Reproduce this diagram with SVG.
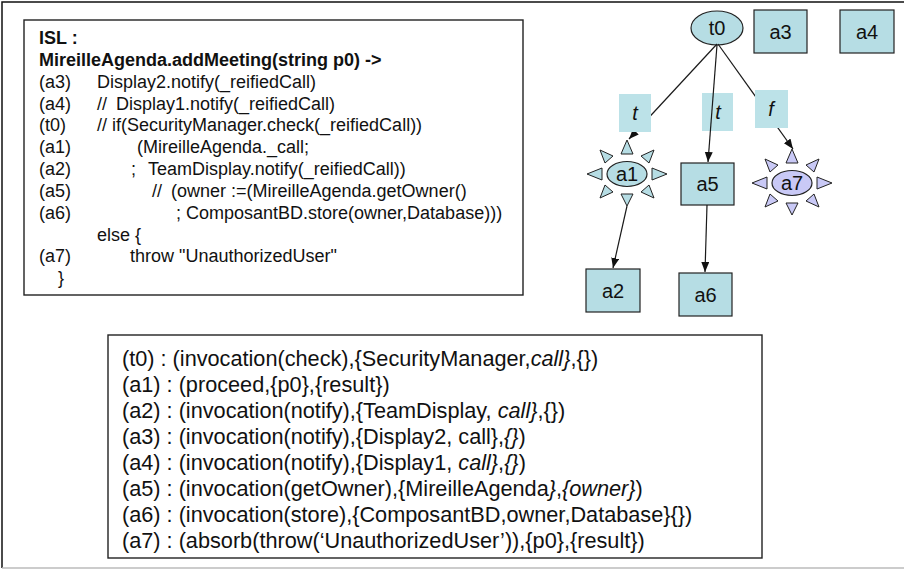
<svg xmlns="http://www.w3.org/2000/svg" xmlns:xlink="http://www.w3.org/1999/xlink" width="904" height="570" viewBox="0 0 904 570">
<style>
.code{font-family:"Liberation Sans",Arial,sans-serif;font-size:18px;fill:#111}
.bold{font-weight:bold}
.def{font-family:"Liberation Sans",Arial,sans-serif;font-size:21.7px;fill:#111}
.it{font-style:italic}
.box{fill:#fff;stroke:#222;stroke-width:1.4}
.node{fill:#B6DDE4;stroke:#222;stroke-width:1.2}
.lav{fill:#C9C9F6;stroke:#222;stroke-width:1.2}
.lbl{fill:#BCE2E8;stroke:none}
.nt{font-family:"Liberation Sans",Arial,sans-serif;font-size:20px;fill:#111;text-anchor:middle}
.conn{stroke:#1a1a1a;stroke-width:1.2;fill:none;marker-end:url(#arr)}
</style>
<defs>
<marker id="arr" markerUnits="userSpaceOnUse" markerWidth="11" markerHeight="9" refX="10" refY="4" orient="auto">
<path d="M0,0 L10,4 L0,8 z" fill="#111"/>
</marker>
<g id="rays" stroke="#222" stroke-width="1">
<polygon points="-6,-20 6,-20 0,-34"/>
<polygon points="-6,20 6,20 0,32"/>
<polygon points="-25,-6 -25,6 -40,0"/>
<polygon points="25,-6 25,6 40,0"/>
<polygon points="22,-11 14,-18 27,-24"/>
<polygon points="22,11 14,18 27,24"/>
<polygon points="-22,-11 -14,-18 -27,-24"/>
<polygon points="-22,11 -14,18 -27,24"/>
</g>
</defs>
<rect x="0" y="0" width="904" height="570" fill="#fff"/>
<path d="M2,568 V2 H904" fill="none" stroke="#111" stroke-width="1.5"/>
<line x1="2" y1="568" x2="904" y2="568" stroke="#bbb" stroke-width="1.5"/>

<g id="isl-box">
<rect class="box" x="24" y="20" width="499" height="275"/>
<text class="code bold" x="39" y="44">ISL :</text>
<text class="code bold" x="39" y="66">MireilleAgenda.addMeeting(string p0) -&gt;</text>
<text class="code" x="39" y="88">(a3)</text>
<text class="code" x="97" y="88">Display2.notify(_reifiedCall)</text>
<text class="code" x="39" y="110">(a4)</text>
<text class="code" x="97" y="110">//</text>
<text class="code" x="116" y="110">Display1.notify(_reifiedCall)</text>
<text class="code" x="39" y="131">(t0)</text>
<text class="code" x="97" y="131">// if(SecurityManager.check(_reifiedCall))</text>
<text class="code" x="39" y="153">(a1)</text>
<text class="code" x="137" y="153">(MireilleAgenda._call;</text>
<text class="code" x="39" y="175">(a2)</text>
<text class="code" x="131" y="175">;</text>
<text class="code" x="148" y="175">TeamDisplay.notify(_reifiedCall))</text>
<text class="code" x="39" y="197">(a5)</text>
<text class="code" x="152" y="197">//</text>
<text class="code" x="171" y="197">(owner :=(MireilleAgenda.getOwner()</text>
<text class="code" x="39" y="219">(a6)</text>
<text class="code" x="176" y="219">; ComposantBD.store(owner,Database)))</text>
<text class="code" x="97" y="241">else {</text>
<text class="code" x="39" y="262">(a7)</text>
<text class="code" x="130" y="262">throw "UnauthorizedUser"</text>
<text class="code" x="58" y="284">}</text>
</g>

<g id="def-box">
<rect class="box" x="108" y="335" width="654" height="223"/>
<text class="def" x="122" y="366">(t0) : (invocation(check),{SecurityManager,<tspan class="it">call}</tspan>,{})</text>
<text class="def" x="122" y="392">(a1) : (proceed,{p0},{result})</text>
<text class="def" x="122" y="418">(a2) : (invocation(notify),{TeamDisplay, <tspan class="it">call}</tspan>,{})</text>
<text class="def" x="122" y="444">(a3) : (invocation(notify),{Display2, call},<tspan class="it">{}</tspan>)</text>
<text class="def" x="122" y="470">(a4) : (invocation(notify),{Display1, <tspan class="it">call}</tspan>,<tspan class="it">{}</tspan>)</text>
<text class="def" x="122" y="496">(a5) : (invocation(getOwner),{MireilleAgenda<tspan class="it">}</tspan>,<tspan class="it">{owner}</tspan>)</text>
<text class="def" x="122" y="522">(a6) : (invocation(store),{ComposantBD,owner,Database}{})</text>
<text class="def" x="122" y="548">(a7) : (absorb(throw(‘UnauthorizedUser’)),{p0},{result})</text>
</g>

<g id="label-t-mid">
<rect class="lbl" x="702" y="93" width="31" height="38"/>
<text class="nt it" x="718" y="119">t</text>
</g>

<g id="t0">
<ellipse class="node" cx="717" cy="28" rx="26" ry="17"/>
<text class="nt" x="717" y="35">t0</text>
</g>
<g id="a3">
<rect class="node" x="754" y="10" width="53" height="43"/>
<text class="nt" x="780.5" y="39">a3</text>
</g>
<g id="a4">
<rect class="node" x="840" y="10" width="54" height="43"/>
<text class="nt" x="867" y="39">a4</text>
</g>
<g id="a1">
<use xlink:href="#rays" href="#rays" transform="translate(627,174)" fill="#B6DDE4"/>
<ellipse class="node" cx="627" cy="174" rx="20" ry="12.5"/>
<text class="nt" x="627" y="181">a1</text>
</g>
<g id="a5">
<rect class="node" x="681" y="163" width="53" height="42"/>
<text class="nt" x="707.5" y="191">a5</text>
</g>
<g id="a7">
<use xlink:href="#rays" href="#rays" transform="translate(792,183)" fill="#C9C9F6"/>
<ellipse class="lav" cx="792" cy="183" rx="20" ry="12.5"/>
<text class="nt" x="792" y="190">a7</text>
</g>
<g id="a2">
<rect class="node" x="586" y="269" width="54" height="43"/>
<text class="nt" x="613" y="298">a2</text>
</g>
<g id="a6">
<rect class="node" x="679" y="273" width="53" height="43"/>
<text class="nt" x="705.5" y="302">a6</text>
</g>

<g id="connectors">
<path class="conn" d="M717,44 L629,139"/>
<path class="conn" d="M717,45 L708,162"/>
<path class="conn" d="M718,44 L793,149"/>
<path class="conn" d="M627,206 L613,268"/>
<path class="conn" d="M707,205 L705,272"/>
</g>

<g id="label-t-left">
<rect class="lbl" x="619" y="94" width="32" height="38"/>
<text class="nt it" x="635" y="120">t</text>
</g>
<g id="label-f">
<rect class="lbl" x="755" y="90" width="33" height="38"/>
<text class="nt it" x="771" y="116">f</text>
</g>
</svg>
